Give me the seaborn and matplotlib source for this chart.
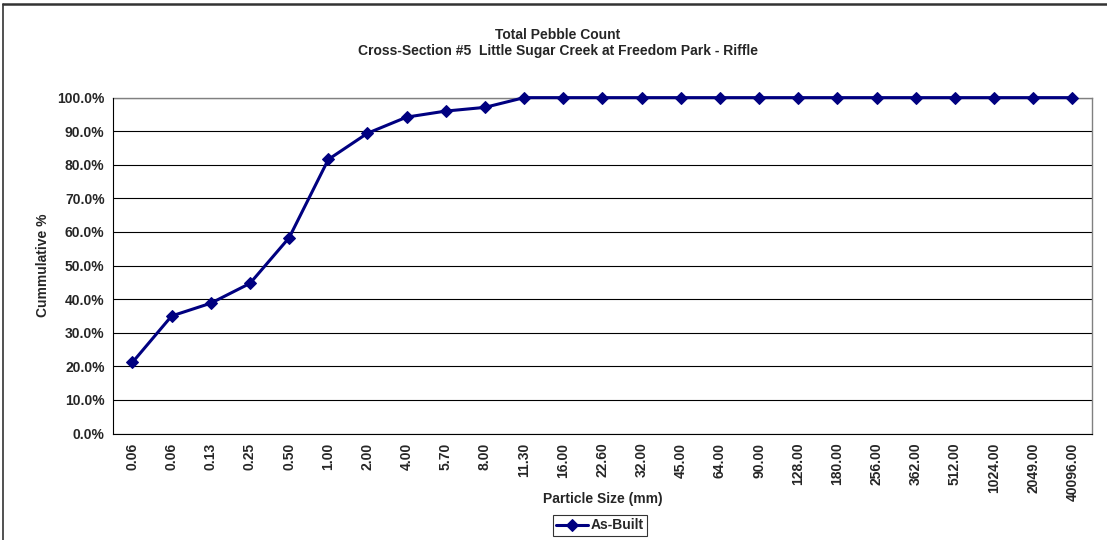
import numpy as np
import matplotlib
matplotlib.use('Agg')
import matplotlib.pyplot as plt
import seaborn as sns
from matplotlib.lines import Line2D
from matplotlib.ticker import FixedLocator, PercentFormatter

# Data
sizes = ['0.06', '0.06', '0.13', '0.25', '0.50', '1.00', '2.00', '4.00', '5.70', '8.00',
         '11.30', '16.00', '22.60', '32.00', '45.00', '64.00', '90.00', '128.00', '180.00',
         '256.00', '362.00', '512.00', '1024.00', '2049.00', '40096.00']
cumulative = [21.2, 35.0, 38.8, 44.7, 58.3, 81.6, 89.4, 94.2, 96.0, 97.1,
              100, 100, 100, 100, 100, 100, 100, 100, 100, 100, 100, 100, 100, 100, 100]

sns.set_style('white')
plt.rcParams['font.family'] = ['Liberation Sans', 'DejaVu Sans']
plt.rcParams['font.weight'] = 'bold'

fig = plt.figure(figsize=(11.07, 5.4), dpi=100)
ax = fig.add_axes([0.102, 0.1972, 0.8845, 0.622])

pos = np.arange(len(sizes))
sns.lineplot(x=pos, y=cumulative, ax=ax, color='#000080', marker='D', markersize=6.5,
             markeredgecolor='#000080', linewidth=2.2, label='As-Built',
             clip_on=False, zorder=5)

ax.set_xlim(-0.5, len(sizes) - 0.5)
ax.set_ylim(0, 100)
ax.yaxis.set_major_locator(FixedLocator(np.arange(0, 101, 10)))
ax.yaxis.set_major_formatter(PercentFormatter(decimals=1))
ax.grid(axis='y', color='black', linewidth=0.8)
ax.set_axisbelow(True)

ax.set_xticks(pos)
ax.set_xticklabels(sizes, rotation=90, fontsize=10, fontweight='bold')
ax.xaxis.set_minor_locator(FixedLocator(np.arange(-0.5, len(sizes), 1)))
ax.tick_params(axis='x', which='major', length=0, pad=6.5)
ax.tick_params(axis='x', which='minor', length=4, width=0.8, direction='out', color='black')
ax.tick_params(axis='y', length=4, width=0.8, direction='out', color='black', labelsize=10, pad=2)
for lab in ax.get_yticklabels():
    lab.set_fontweight('bold')

for s in ['top', 'right']:
    ax.spines[s].set_color('#808080')
    ax.spines[s].set_linewidth(1.0)
    ax.spines[s].set_zorder(1)
for s in ['left', 'bottom']:
    ax.spines[s].set_color('black')
    ax.spines[s].set_linewidth(0.8)

ax.set_xlabel('Particle Size (mm)', fontsize=10, fontweight='bold', va='top')
ax.xaxis.set_label_coords(0.5, -0.175)
ax.set_ylabel('Cummulative %', fontsize=10, fontweight='bold')
ax.yaxis.set_label_coords(-0.064, 0.5)
fig.text(0.504, 0.9208, 'Total Pebble Count\nCross-Section #5  Little Sugar Creek at Freedom Park - Riffle',
         ha='center', va='center', fontsize=10, fontweight='bold', linespacing=1.15)

leg = ax.legend(loc='center', bbox_to_anchor=(0.542, 0.027), bbox_transform=fig.transFigure,
                frameon=True, fancybox=False, fontsize=10, handlelength=2.3,
                borderpad=0.25, handletextpad=0.2, borderaxespad=0)
leg.get_frame().set_edgecolor('black')
leg.get_frame().set_linewidth(0.8)
for t in leg.get_texts():
    t.set_fontweight('bold')

# outer chart frame (only top and left edges fall inside the picture)
fig.add_artist(Line2D([0.0025, 1.0], [0.9925, 0.9925], transform=fig.transFigure,
                      color='#333333', linewidth=1.8))
fig.add_artist(Line2D([0.0025, 0.0025], [0.0, 0.9925], transform=fig.transFigure,
                      color='#333333', linewidth=1.2))

fig.savefig('out.png', dpi=100)
